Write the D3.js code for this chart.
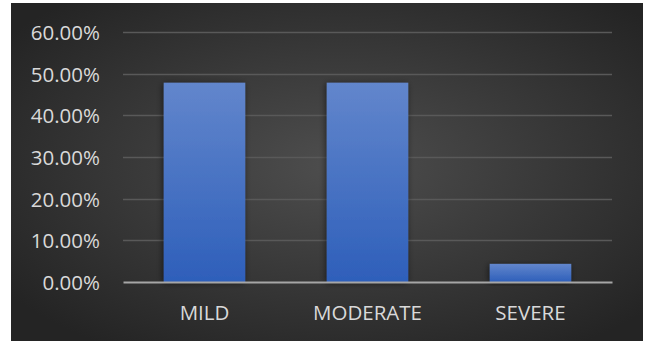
<!DOCTYPE html>
<html>
<head>
<meta charset="utf-8">
<script src="https://cdn.jsdelivr.net/npm/d3@7"></script>
<style>
  html, body { margin: 0; padding: 0; background: #ffffff; }
  svg { display: block; }
</style>
</head>
<body>
<svg id="chart" width="646" height="341"></svg>
<script>
// Share of cases by severity
const categories = ["MILD", "MODERATE", "SEVERE"];
const shares = [0.4783, 0.4783, 0.0435];
const yTicks = [0, 0.1, 0.2, 0.3, 0.4, 0.5, 0.6];

const svg = d3.select("#chart");
const defs = svg.append("defs");

// Dark panel with a soft lighter centre
const bg = defs.append("radialGradient")
  .attr("id", "panelGrad")
  .attr("cx", "52%").attr("cy", "48%").attr("r", "65%");
bg.append("stop").attr("offset", "0%").attr("stop-color", "#4e4e4e");
bg.append("stop").attr("offset", "100%").attr("stop-color", "#242424");

const barGrad = defs.append("linearGradient")
  .attr("id", "barGrad")
  .attr("x1", 0).attr("y1", 0).attr("x2", 0).attr("y2", 1);
barGrad.append("stop").attr("offset", "0%").attr("stop-color", "#6286cc");
barGrad.append("stop").attr("offset", "100%").attr("stop-color", "#2e5fba");

const shadow = defs.append("filter")
  .attr("id", "barShadow")
  .attr("x", "-20%").attr("y", "-20%").attr("width", "140%").attr("height", "140%");
shadow.append("feDropShadow")
  .attr("dx", -1).attr("dy", 1).attr("stdDeviation", 3)
  .attr("flood-color", "#000").attr("flood-opacity", 0.55);

svg.append("rect")
  .attr("x", 11).attr("y", 3).attr("width", 632).attr("height", 338)
  .attr("fill", "url(#panelGrad)");

const plot = { left: 123, right: 612, top: 32, bottom: 282 };

const x = d3.scaleBand()
  .domain(categories)
  .range([plot.left, plot.right])
  .paddingInner(0.5)
  .paddingOuter(0.25);

const y = d3.scaleLinear()
  .domain([0, 0.6])
  .range([plot.bottom, plot.top]);

const font = "'Open Sans', 'Noto Sans', sans-serif";

// Horizontal gridlines
svg.append("g")
  .selectAll("line")
  .data(yTicks.filter(d => d > 0))
  .join("line")
  .attr("x1", plot.left).attr("x2", plot.right)
  .attr("y1", d => Math.round(y(d)) + 0.5)
  .attr("y2", d => Math.round(y(d)) + 0.5)
  .attr("stroke", "#595959")
  .attr("stroke-width", 1.5);

// Y axis labels
const yAxis = d3.axisLeft(y)
  .tickValues(yTicks)
  .tickFormat(d3.format(".2%"))
  .tickSize(0)
  .tickPadding(23);
const yg = svg.append("g")
  .attr("transform", `translate(${plot.left},0)`)
  .call(yAxis);
yg.select(".domain").remove();
yg.selectAll("text")
  .attr("dy", "0.36em")
  .attr("fill", "#d9d9d9")
  .style("font-family", font)
  .style("font-size", "20.5px");

// Bars
svg.append("g")
  .selectAll("rect")
  .data(categories.map((c, i) => ({ c, v: shares[i] })))
  .join("rect")
  .attr("x", d => x(d.c))
  .attr("y", d => y(d.v))
  .attr("width", x.bandwidth())
  .attr("height", d => y(0) - y(d.v))
  .attr("fill", "url(#barGrad)")
  .attr("filter", "url(#barShadow)");

// Category axis
const xAxis = d3.axisBottom(x).tickSize(0);
const xg = svg.append("g")
  .attr("transform", `translate(0,${plot.bottom})`)
  .call(xAxis);
xg.select(".domain")
  .attr("stroke", "#a6a6a6")
  .attr("stroke-width", 2);
xg.selectAll("text")
  .attr("y", 38)
  .attr("dy", 0)
  .attr("fill", "#d9d9d9")
  .style("font-family", font)
  .style("font-size", "20.5px");
</script>
</body>
</html>
